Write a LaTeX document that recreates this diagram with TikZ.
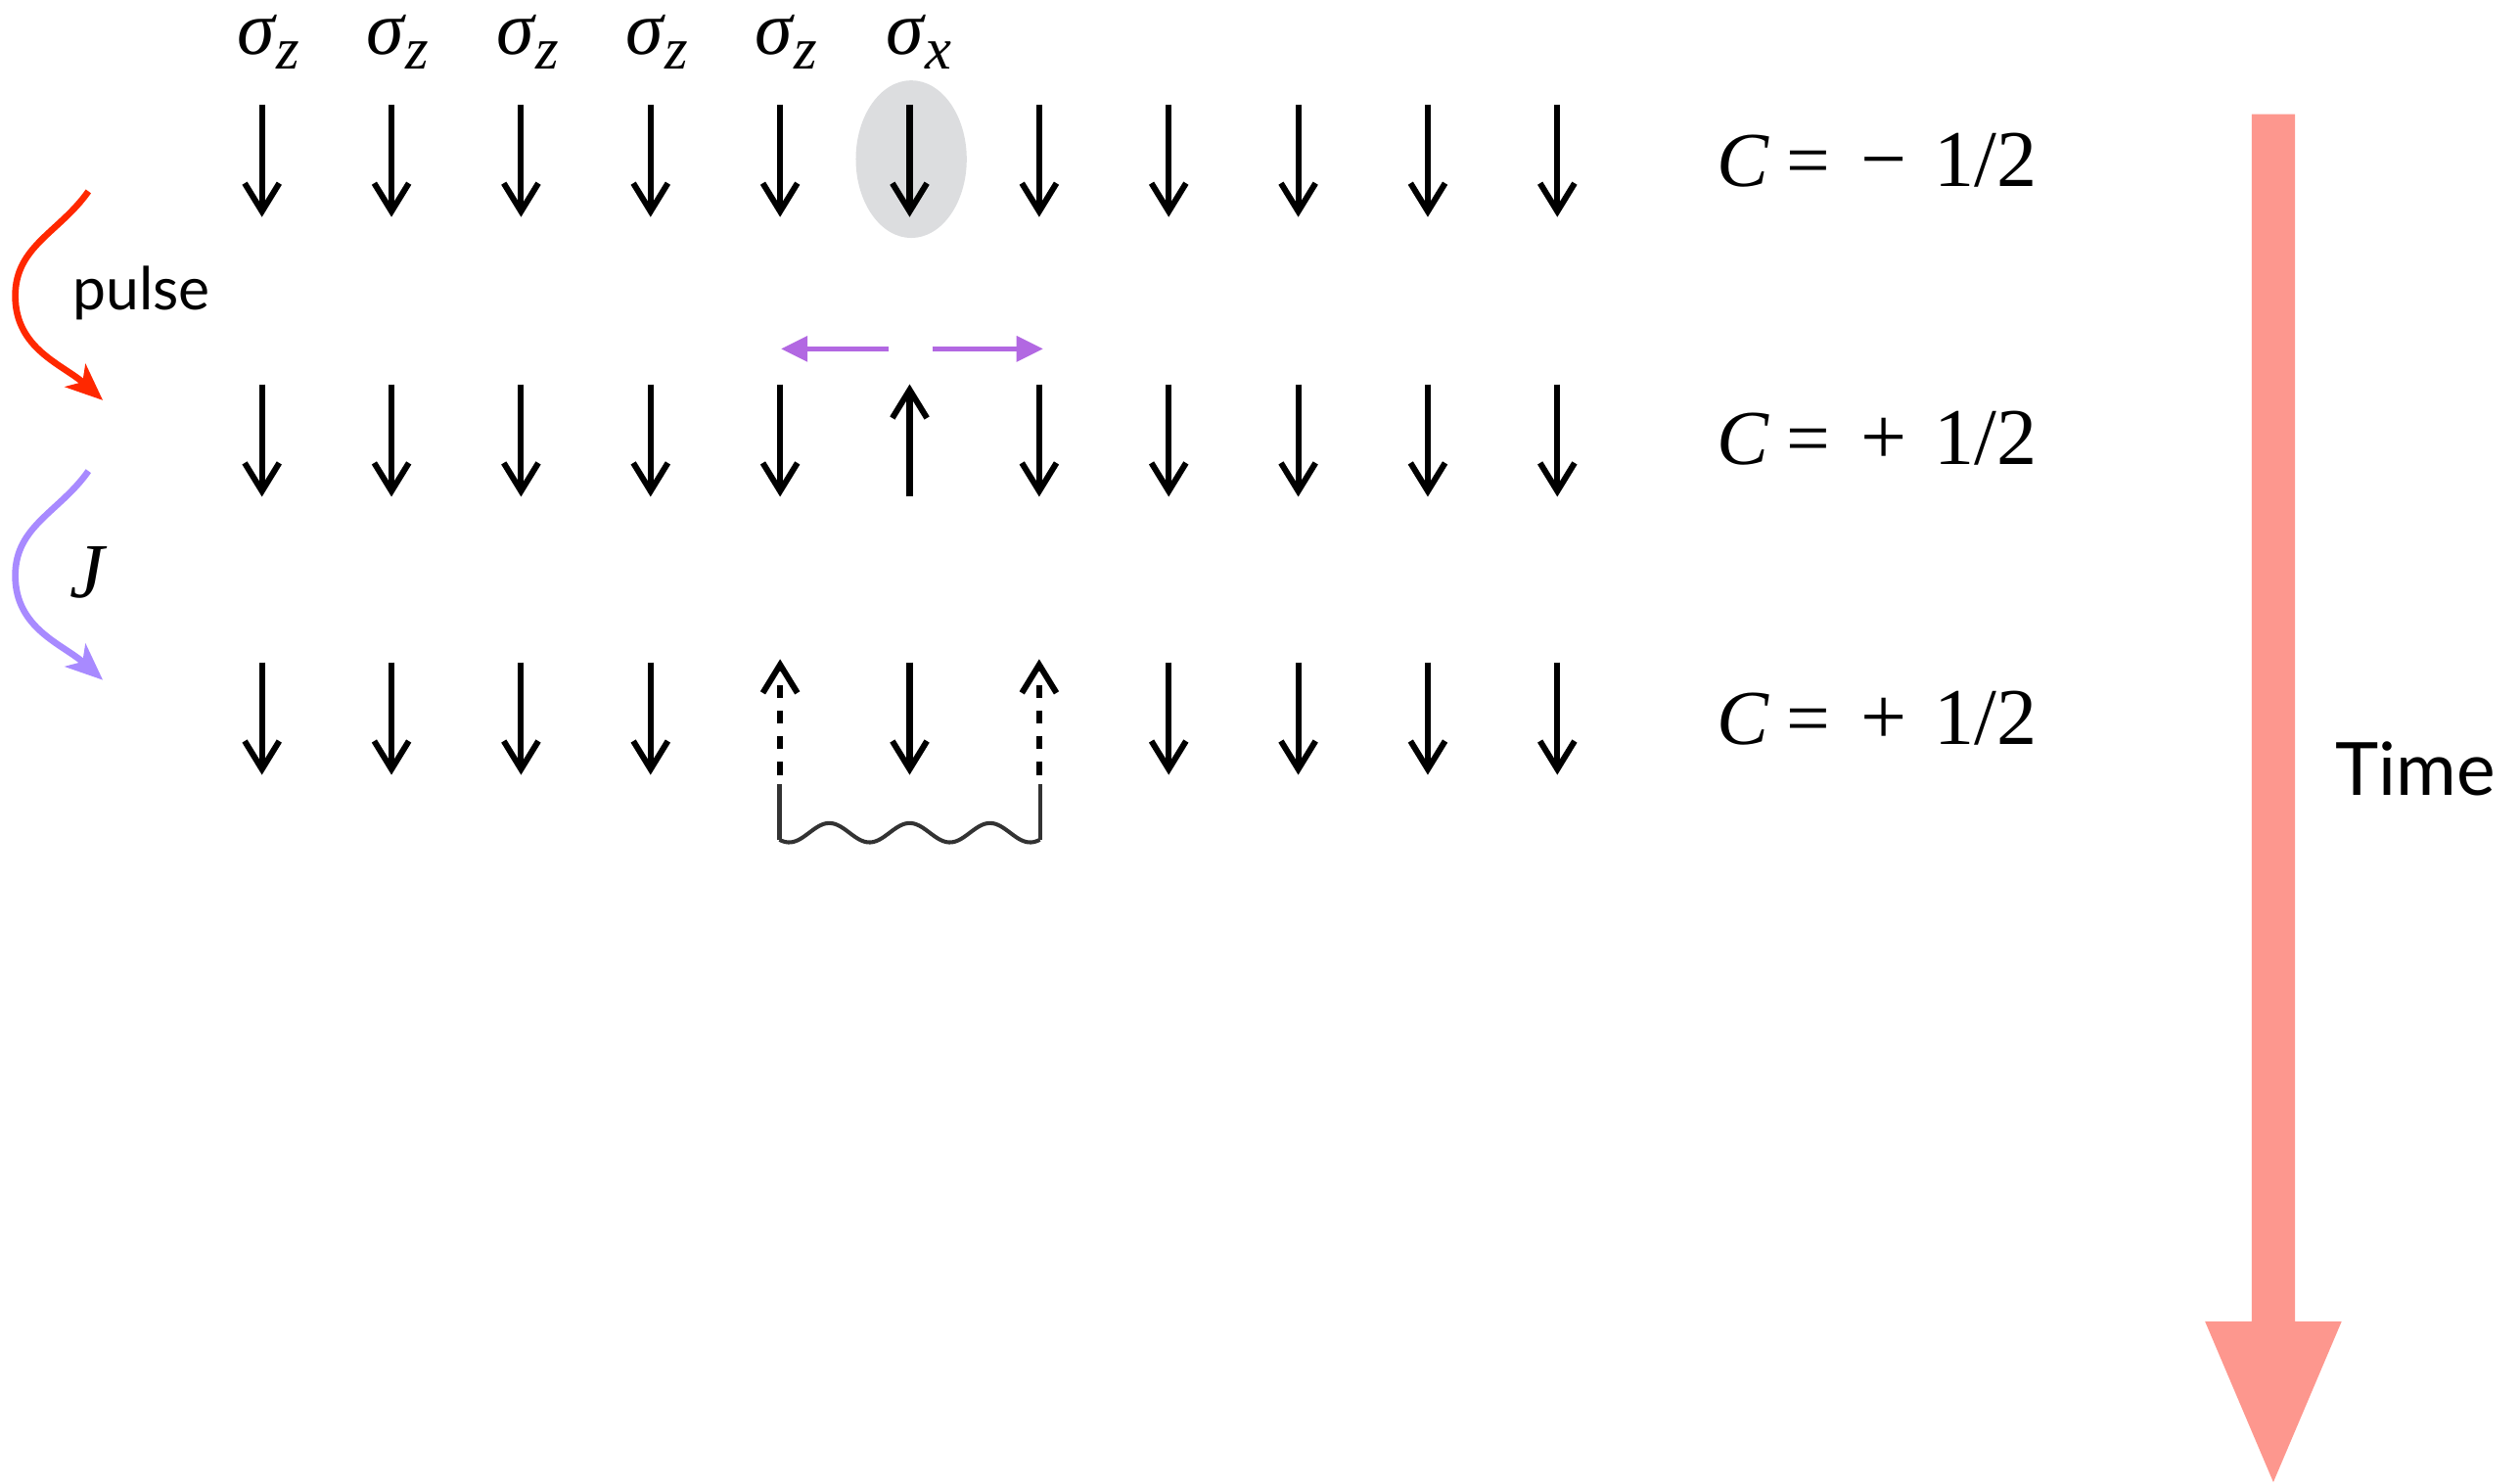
\documentclass[tikz,border=0pt]{standalone}
\usepackage{fontspec}
\usepackage{tikz}
\usetikzlibrary{positioning,arrows.meta,calc}
\newfontfamily\gillfont{Lato}
\newfontfamily\timesfont{Liberation Serif}
\definecolor{pulsered}{RGB}{255,40,0}
\definecolor{jviolet}{RGB}{168,138,255}
\definecolor{flipviolet}{RGB}{178,104,226}
\definecolor{timesalmon}{RGB}{253,151,142}
\definecolor{sxgray}{RGB}{220,221,223}
% Pauli operator with its axis as subscript
\newcommand\pauli[1]{{\itshape σ\kern0.5pt\raisebox{-0.42ex}{\fontsize{21}{24}\selectfont #1}}}
% value of the counter, sign set apart from the fraction
\newcommand\cval[1]{\textit{C}\kern6pt=\kern11pt{\fontsize{29}{33}\selectfont #1}\kern9.5pt{\fontsize{28.5}{33}\selectfont 1/2}}

\begin{document}
\begin{tikzpicture}[
  x=0.2mm,y=-0.2mm,
  font=\timesfont\fontsize{27.5}{33}\selectfont,
  spin/.style={line width=2.1pt,-{Straight Barb[length=3.5mm,width=4.3mm]}},
  ghost/.style={spin,dash pattern=on 1.6mm off 1.6mm},
  flip/.style={flipviolet,line width=1.6pt,-{Triangle[length=3.3mm,width=3.1mm]}},
  evolve/.style={line width=2.3pt,-{Stealth[length=4.6mm,width=3.8mm,inset=1.2mm]}},
  bondline/.style={line width=1.4pt,black!80},
  oplabel/.style={anchor=base,inner sep=0pt,font=\timesfont\fontsize{27}{32}\selectfont},
  clabel/.style={anchor=base west,inner sep=0pt},
  wordlabel/.style={font=\gillfont\fontsize{21}{25}\selectfont,inner sep=0pt,anchor=base},
]
\useasboundingbox (0,0) rectangle (1568,923);
% site hit by the sigma_x pulse
\fill[sxgray] (567,99) ellipse [x radius=6.9mm,y radius=9.8mm];
% operator labels
\foreach \i in {1,...,5}
  \node[oplabel] (sig\i) at ({86.4+80.6*\i},34) {\pauli{z}};
\node[oplabel] (sig6) at (572,34) {\pauli{x}};
% three rows of spins
\foreach \i [evaluate=\i as \x using 82.4+80.6*\i] in {1,...,11}
  \draw[spin] (\x,65) -- (\x,135);
\foreach \i [evaluate=\i as \x using 82.4+80.6*\i] in {1,2,3,4,5,7,8,9,10,11}
  \draw[spin] (\x,239) -- (\x,309);
\draw[spin] (566,309) -- (566,239);
\foreach \i [evaluate=\i as \x using 82.4+80.6*\i] in {1,2,3,4,6,8,9,10,11}
  \draw[spin] (\x,412) -- (\x,482);
\foreach \i [evaluate=\i as \x using 82.4+80.6*\i] in {5,7}
  \draw[ghost] (\x,482) -- (\x,410);
% domain walls moving apart
\coordinate (fl0) at (553,217); \coordinate (fl1) at (486,217);
\coordinate (fr0) at (580,217); \coordinate (fr1) at (649,217);
\draw[flip] (fl0) -- (fl1);
\draw[flip] (fr0) -- (fr1);
% bound pair
\coordinate (b1) at (485,488); \coordinate (b2) at (647,488);
\draw[bondline] (b1) -- ++(0,34.4);
\draw[bondline] (b2) -- ++(0,34.4);
\draw[bondline] plot[domain=485:647,samples=90] (\x,{518+6*cos(7.2*(\x-491))});
% counting labels
\node[clabel] (c1) at (1068,116) {\cval{−}};
\node[clabel] (c2) at (1068,289) {\cval{+}};
\node[clabel] (c3) at (1068,463) {\cval{+}};
% pulse and coupling steps
\coordinate (pa) at (55,119); \coordinate (pm) at (9.5,184); \coordinate (pb) at (64,249);
\draw[evolve,pulsered] (pa) to[out=-125,in=90] (pm) to[out=-90,in=138] (pb);
\node[wordlabel] (pulse) at (88,193) {pulse};
\coordinate (ja) at (55,293); \coordinate (jm) at (9.5,358); \coordinate (jb) at (64,423);
\draw[evolve,jviolet] (ja) to[out=-125,in=90] (jm) to[out=-90,in=138] (jb);
\node[anchor=base,inner sep=0pt] (coupling) at (55,372) {\textit{J}};
% time axis
\fill[timesalmon] (1401,71) -- (1428,71) -- (1428,822) -- (1457,822)
  -- (1414.5,922) -- (1372,822) -- (1401,822) -- cycle;
\node[wordlabel,font=\gillfont\fontsize{26}{30}\selectfont] (time) at (1503,495) {Time};
\end{tikzpicture}
\end{document}
